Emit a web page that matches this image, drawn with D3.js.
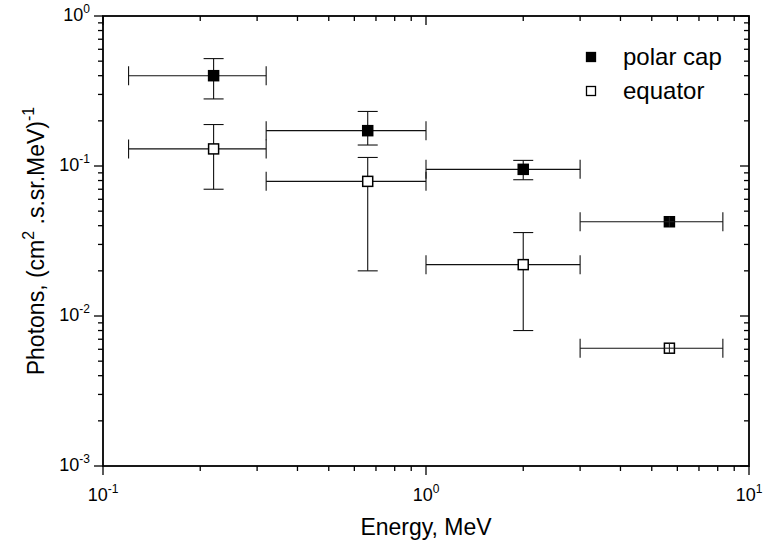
<!DOCTYPE html>
<html>
<head>
<meta charset="utf-8">
<script src="https://cdn.jsdelivr.net/npm/d3@7"></script>
<style>
  html, body { margin: 0; padding: 0; background: #fff; }
  svg { display: block; font-family: "Liberation Sans", Arial, sans-serif; }
</style>
</head>
<body>
<svg id="chart" width="765" height="543"></svg>
<script>
// Photon spectra: energy bins (MeV) and fluxes with error ranges
const energy     = [0.22, 0.66, 2.0, 5.67];
const energyLow  = [0.12, 0.32, 1.0, 3.0];
const energyHigh = [0.32, 1.0, 3.0, 8.3];

const polarCap     = [0.40, 0.172, 0.095, 0.0425];
const polarCapLow  = [0.28, 0.138, 0.081, 0.0415];
const polarCapHigh = [0.52, 0.231, 0.109, 0.0435];

const equator     = [0.130, 0.079, 0.022, 0.0061];
const equatorLow  = [0.070, 0.020, 0.008, 0.0059];
const equatorHigh = [0.189, 0.114, 0.036, 0.0063];

const xTickValues = [0.1, 1, 10];
const xTickExps   = ["-1", "0", "1"];
const yTickValues = [1, 0.1, 0.01, 0.001];
const yTickExps   = ["0", "-1", "-2", "-3"];

const seriesNames = ["polar cap", "equator"];

const svg = d3.select("#chart");
const plot = { left: 103, top: 16, right: 749, bottom: 466 };

const x = d3.scaleLog().domain([0.1, 10]).range([plot.left, plot.right]);
const y = d3.scaleLog().domain([0.001, 1]).range([plot.bottom, plot.top]);

// minor tick values for each decade
function minors(lo, hi) {
  const out = [];
  for (let e = Math.log10(lo); e < Math.log10(hi); e++) {
    for (let k = 2; k <= 9; k++) out.push(k * Math.pow(10, e));
  }
  return out;
}
const xMinor = minors(0.1, 10);
const yMinor = minors(0.001, 1);

const MAJ = 9, MIN = 5;
const axisG = svg.append("g").attr("stroke", "#000").attr("fill", "none");

// ticks: all point down (horizontal axes) and left (vertical axes)
[plot.bottom, plot.top].forEach(yy => {
  axisG.selectAll(null).data(xTickValues).enter().append("line")
    .attr("x1", d => x(d)).attr("x2", d => x(d))
    .attr("y1", yy).attr("y2", yy + MAJ).attr("stroke-width", 1.3);
  axisG.selectAll(null).data(xMinor).enter().append("line")
    .attr("x1", d => x(d)).attr("x2", d => x(d))
    .attr("y1", yy).attr("y2", yy + MIN).attr("stroke-width", 1.3);
});
[plot.left, plot.right].forEach(xx => {
  axisG.selectAll(null).data(yTickValues).enter().append("line")
    .attr("y1", d => y(d)).attr("y2", d => y(d))
    .attr("x1", xx).attr("x2", xx - MAJ).attr("stroke-width", 1.3);
  axisG.selectAll(null).data(yMinor).enter().append("line")
    .attr("y1", d => y(d)).attr("y2", d => y(d))
    .attr("x1", xx).attr("x2", xx - MIN).attr("stroke-width", 1.3);
});

// frame
axisG.append("rect")
  .attr("x", plot.left).attr("y", plot.top)
  .attr("width", plot.right - plot.left).attr("height", plot.bottom - plot.top)
  .attr("stroke-width", 1.8);

// tick labels with superscript exponents
const tickFont = 18, supFont = 12;
xTickValues.forEach((v, i) => {
  const t = svg.append("text").attr("x", x(v)).attr("y", 501)
    .attr("text-anchor", "middle").attr("font-size", tickFont).attr("fill", "#000");
  t.append("tspan").text("10");
  t.append("tspan").attr("font-size", supFont).attr("dy", -8).text(xTickExps[i]);
});
yTickValues.forEach((v, i) => {
  const t = svg.append("text").attr("x", 90).attr("y", y(v) + 5)
    .attr("text-anchor", "end").attr("font-size", tickFont).attr("fill", "#000");
  t.append("tspan").text("10");
  t.append("tspan").attr("font-size", supFont).attr("dy", -8).text(yTickExps[i]);
});

// axis titles
svg.append("text").attr("x", (plot.left + plot.right) / 2).attr("y", 535)
  .attr("text-anchor", "middle").attr("font-size", 23).text("Energy, MeV");

const yt = svg.append("text")
  .attr("transform", `translate(44,${(plot.top + plot.bottom) / 2}) rotate(-90)`)
  .attr("text-anchor", "middle").attr("font-size", 23);
yt.append("tspan").text("Photons, (cm");
yt.append("tspan").attr("font-size", 16).attr("dy", -10).text("2");
yt.append("tspan").attr("dy", 10).text(" .s.sr.MeV)");
yt.append("tspan").attr("font-size", 16).attr("dy", -10).text("-1");

// error bars and markers
const series = [
  { name: seriesNames[0], v: polarCap, lo: polarCapLow, hi: polarCapHigh, fill: "#000" },
  { name: seriesNames[1], v: equator, lo: equatorLow, hi: equatorHigh, fill: "#fff" }
];
const CAP_X = 10, CAP_Y = 9.5, SIZE = 10;
const g = svg.append("g");

series.forEach(s => {
  const pts = energy.map((e, i) => ({
    e, el: energyLow[i], eh: energyHigh[i], v: s.v[i], lo: s.lo[i], hi: s.hi[i]
  }));
  // error ranges smaller than the marker are drawn over it without caps
  pts.forEach(d => { d.small = (y(d.lo) - y(d.hi)) < SIZE; });
  const big = pts.filter(d => !d.small);
  const eb = g.append("g").attr("stroke", "#111").attr("stroke-width", 1.1);
  // horizontal (energy bin) bars
  eb.selectAll(null).data(pts).enter().append("line")
    .attr("x1", d => x(d.el)).attr("x2", d => x(d.eh))
    .attr("y1", d => y(d.v)).attr("y2", d => y(d.v));
  eb.selectAll(null).data(pts).enter().append("line")
    .attr("x1", d => x(d.el)).attr("x2", d => x(d.el))
    .attr("y1", d => y(d.v) - CAP_Y).attr("y2", d => y(d.v) + CAP_Y);
  eb.selectAll(null).data(pts).enter().append("line")
    .attr("x1", d => x(d.eh)).attr("x2", d => x(d.eh))
    .attr("y1", d => y(d.v) - CAP_Y).attr("y2", d => y(d.v) + CAP_Y);
  // vertical (flux) bars
  eb.selectAll(null).data(big).enter().append("line")
    .attr("x1", d => x(d.e)).attr("x2", d => x(d.e))
    .attr("y1", d => y(d.lo)).attr("y2", d => y(d.hi));
  eb.selectAll(null).data(big).enter().append("line")
    .attr("x1", d => x(d.e) - CAP_X).attr("x2", d => x(d.e) + CAP_X)
    .attr("y1", d => y(d.lo)).attr("y2", d => y(d.lo));
  eb.selectAll(null).data(big).enter().append("line")
    .attr("x1", d => x(d.e) - CAP_X).attr("x2", d => x(d.e) + CAP_X)
    .attr("y1", d => y(d.hi)).attr("y2", d => y(d.hi));
  s.pts = pts;
});

series.forEach(s => {
  g.selectAll(null).data(s.pts).enter().append("rect")
    .attr("x", d => x(d.e) - SIZE / 2).attr("y", d => y(d.v) - SIZE / 2)
    .attr("width", SIZE).attr("height", SIZE)
    .attr("fill", s.fill).attr("stroke", "#000").attr("stroke-width", 1.5);
  const small = s.pts.filter(d => d.small);
  const cross = g.append("g").attr("stroke", "#222").attr("stroke-width", 1.1);
  cross.selectAll(null).data(small).enter().append("line")
    .attr("x1", d => x(d.e)).attr("x2", d => x(d.e))
    .attr("y1", d => y(d.v) - SIZE / 2).attr("y2", d => y(d.v) + SIZE / 2);
  cross.selectAll(null).data(small).enter().append("line")
    .attr("x1", d => x(d.e) - SIZE / 2).attr("x2", d => x(d.e) + SIZE / 2)
    .attr("y1", d => y(d.v)).attr("y2", d => y(d.v));
});

// legend
const legend = svg.append("g");
series.forEach((s, i) => {
  const cy = 57 + i * 34;
  legend.append("rect").attr("x", 591 - 4.5).attr("y", cy - 4.5)
    .attr("width", 9).attr("height", 9)
    .attr("fill", s.fill).attr("stroke", "#000").attr("stroke-width", 1.3);
  legend.append("text").attr("x", 623).attr("y", cy + 8)
    .attr("font-size", 24).text(s.name);
});
</script>
</body>
</html>
